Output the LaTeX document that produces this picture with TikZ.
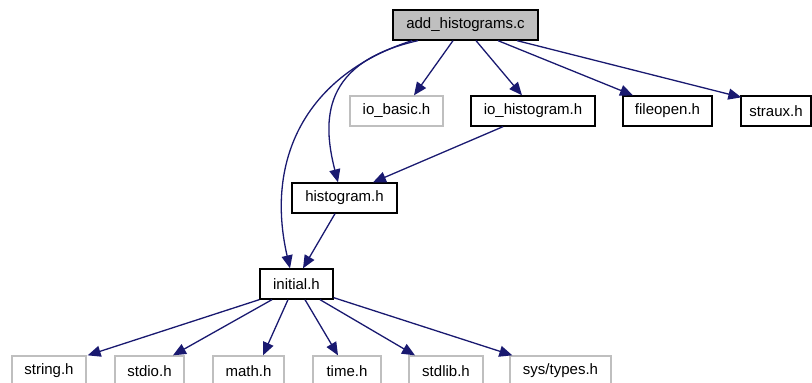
\documentclass[tikz,border=0pt]{standalone}
\usepackage{fontspec}
\setmainfont{Liberation Sans}
\usetikzlibrary{arrows.meta}
\definecolor{edgeblue}{HTML}{191970}
\definecolor{extgray}{HTML}{BFBFBF}
\begin{document}
\begin{tikzpicture}[x=1pt,y=-1pt,
  filebox/.style={draw=black,line width=1.3pt,fill=white,inner sep=0pt,
    minimum height=30pt,font=\fontsize{15}{18}\selectfont},
  rootbox/.style={filebox,fill=extgray},
  sysbox/.style={filebox,draw=extgray},
  dep/.style={draw=edgeblue,line width=1.3pt,
    -{Triangle[length=13pt,width=11pt]}},
]
\useasboundingbox (0,0) rectangle (812,383);
\clip (0,0) rectangle (812,383);

% header being documented
\node[rootbox,minimum width=145pt] (add) at (465.5,25) {add\_histograms.c};

% first level of includes
\node[sysbox,minimum width=93pt]   (iobasic)  at (396.5,111) {io\_basic.h};
\node[filebox,minimum width=124pt] (iohist)   at (533,111)   {io\_histogram.h};
\node[filebox,minimum width=89pt]  (fileopen) at (667.5,111) {fileopen.h};
\node[filebox,minimum width=70pt]  (straux)   at (776,111)   {straux.h};

\node[filebox,minimum width=105pt] (histogram) at (344.5,198) {histogram.h};
\node[filebox,minimum width=73pt]  (initial)   at (296.5,284) {initial.h};

% system headers
\node[sysbox,minimum width=74pt]  (string)   at (49,371)    {string.h};
\node[sysbox,minimum width=69pt]  (stdio)    at (149.5,371) {stdio.h};
\node[sysbox,minimum width=71pt]  (math)     at (248.5,371) {math.h};
\node[sysbox,minimum width=68pt]  (time)     at (347,371)   {time.h};
\node[sysbox,minimum width=74pt]  (stdlib)   at (446,371)   {stdlib.h};
\node[sysbox,minimum width=101pt] (systypes) at (560.5,371) {sys/types.h};

% include edges
\draw[dep] ([xshift=-12.5pt]add.south) -- ([xshift=17.5pt]iobasic.north);
\draw[dep] ([xshift=10.5pt]add.south) -- ([xshift=-11pt]iohist.north);
\draw[dep] ([xshift=32.5pt]add.south) -- ([xshift=-34.5pt]fileopen.north);
\draw[dep] ([xshift=51.5pt]add.south) -- ([xshift=1pt,yshift=-2pt]straux.north west);

\draw[dep] ([xshift=-47.5pt]add.south) .. controls (322,62) and (322,120)
  .. ([xshift=-6.5pt]histogram.north);
\draw[dep] ([xshift=-53.5pt]add.south) .. controls (305,75) and (265,160)
  .. ([xshift=-6.5pt]initial.north);

\draw[dep] ([xshift=-30pt]iohist.south) -- ([xshift=28.5pt]histogram.north);
\draw[dep] ([xshift=-9.5pt]histogram.south) -- ([xshift=6.5pt]initial.north);

\draw[dep] (initial.south west) -- ([xshift=1pt]string.north east);
\draw[dep] ([xshift=-24.5pt]initial.south) -- ([xshift=23.5pt]stdio.north);
\draw[dep] ([xshift=-8.5pt]initial.south) -- ([xshift=14.5pt]math.north);
\draw[dep] ([xshift=8.5pt]initial.south) -- ([xshift=-9pt]time.north);
\draw[dep] ([xshift=23.5pt]initial.south) -- ([xshift=-31pt]stdlib.north);
\draw[dep] ([yshift=2pt]initial.south east) -- ([xshift=3pt]systypes.north west);
\end{tikzpicture}
\end{document}
